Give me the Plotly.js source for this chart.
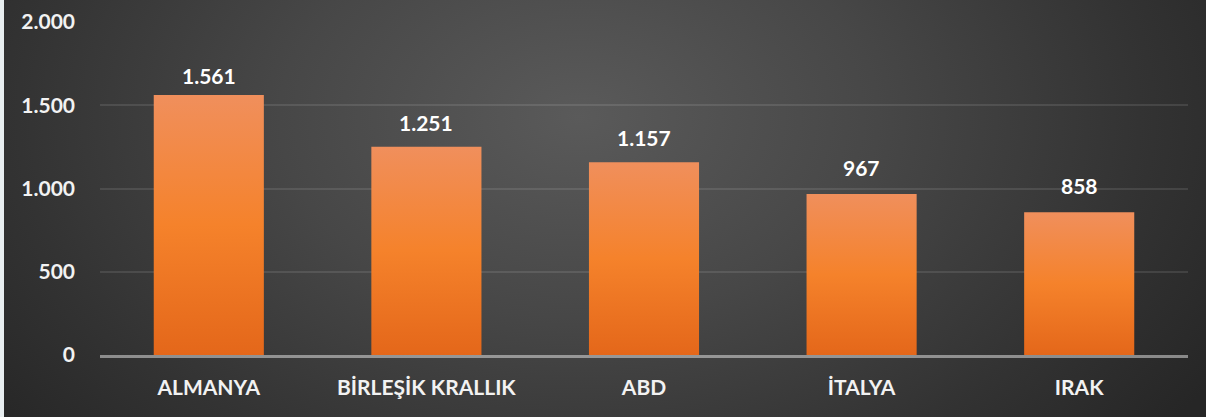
<!DOCTYPE html>
<html>
<head>
<meta charset="utf-8">
<script src="https://cdn.plot.ly/plotly-3.0.1.min.js"></script>
<style>
  html, body { margin: 0; padding: 0; background: #e8eef0; }
  #chart {
    width: 1206px; height: 417px;
    background:
      linear-gradient(to right, #e8eef0 0px, #e8eef0 4px, transparent 4px),
      radial-gradient(ellipse 62% 120% at 48% 28%, #5a5a5a 0%, #474747 40%, #333333 75%, #262626 100%);
  }
</style>
</head>
<body>
<div id="chart"></div>
<script>
const categories = ["ALMANYA", "BİRLEŞİK KRALLIK", "ABD", "İTALYA", "IRAK"];
const values = [1561, 1251, 1157, 967, 858];
const valueLabels = ["1.561", "1.251", "1.157", "967", "858"];
const yTickValues = [0, 500, 1000, 1500, 2000];
const yTickLabels = ["0", "500", "1.000", "1.500", "2.000"];

const font = "Lato, 'Open Sans', sans-serif";
const labelShift = [5, 10, 10, 12, 12];

const trace = {
  type: "bar",
  x: categories,
  y: values,
  marker: { color: "#f5822d", line: { width: 0 } },
  hoverinfo: "none"
};

const annotations = categories.map((c, i) => ({
  x: c, y: values[i], xref: "x", yref: "y",
  text: valueLabels[i], showarrow: false,
  yanchor: "bottom", yshift: labelShift[i],
  font: { family: font, size: 21, color: "#ffffff", weight: 700 }
}));

const layout = {
  width: 1206, height: 417,
  margin: { l: 100, r: 18, t: 22, b: 62 },
  paper_bgcolor: "rgba(0,0,0,0)",
  plot_bgcolor: "rgba(0,0,0,0)",
  bargap: 0.494,
  showlegend: false,
  font: { family: font, color: "#f2f2f2" },
  xaxis: {
    type: "category",
    showgrid: false,
    showline: true,
    linecolor: "rgba(255,255,255,0.45)",
    linewidth: 3,
    ticks: "",
    ticklabelstandoff: 12,
    tickfont: { family: font, size: 21, color: "#f2f2f2", weight: 700 },
    fixedrange: true
  },
  yaxis: {
    range: [0, 2000],
    tickvals: yTickValues,
    ticktext: yTickLabels,
    showgrid: true,
    gridcolor: "rgba(255,255,255,0.1)",
    gridwidth: 2,
    zeroline: false,
    showline: false,
    ticks: "",
    ticklabelstandoff: 24,
    tickfont: { family: font, size: 21, color: "#f2f2f2", weight: 700 },
    fixedrange: true
  },
  annotations: annotations
};

Plotly.newPlot("chart", [trace], layout, { displayModeBar: false, staticPlot: true }).then(gd => {
  const svg = gd.querySelector("svg.main-svg");
  const ns = "http://www.w3.org/2000/svg";
  let defs = svg.querySelector("defs");
  if (!defs) { defs = document.createElementNS(ns, "defs"); svg.insertBefore(defs, svg.firstChild); }
  const grad = document.createElementNS(ns, "linearGradient");
  grad.setAttribute("id", "barGrad");
  grad.setAttribute("x1", "0"); grad.setAttribute("y1", "0");
  grad.setAttribute("x2", "0"); grad.setAttribute("y2", "1");
  [["0%", "#f08f5c"], ["50%", "#f5822b"], ["100%", "#e4671a"]].forEach(([o, c]) => {
    const s = document.createElementNS(ns, "stop");
    s.setAttribute("offset", o); s.setAttribute("stop-color", c);
    grad.appendChild(s);
  });
  defs.appendChild(grad);
  gd.querySelectorAll(".bars .point path").forEach(p => {
    p.style.fill = "url(#barGrad)";
  });
});
</script>
</body>
</html>
